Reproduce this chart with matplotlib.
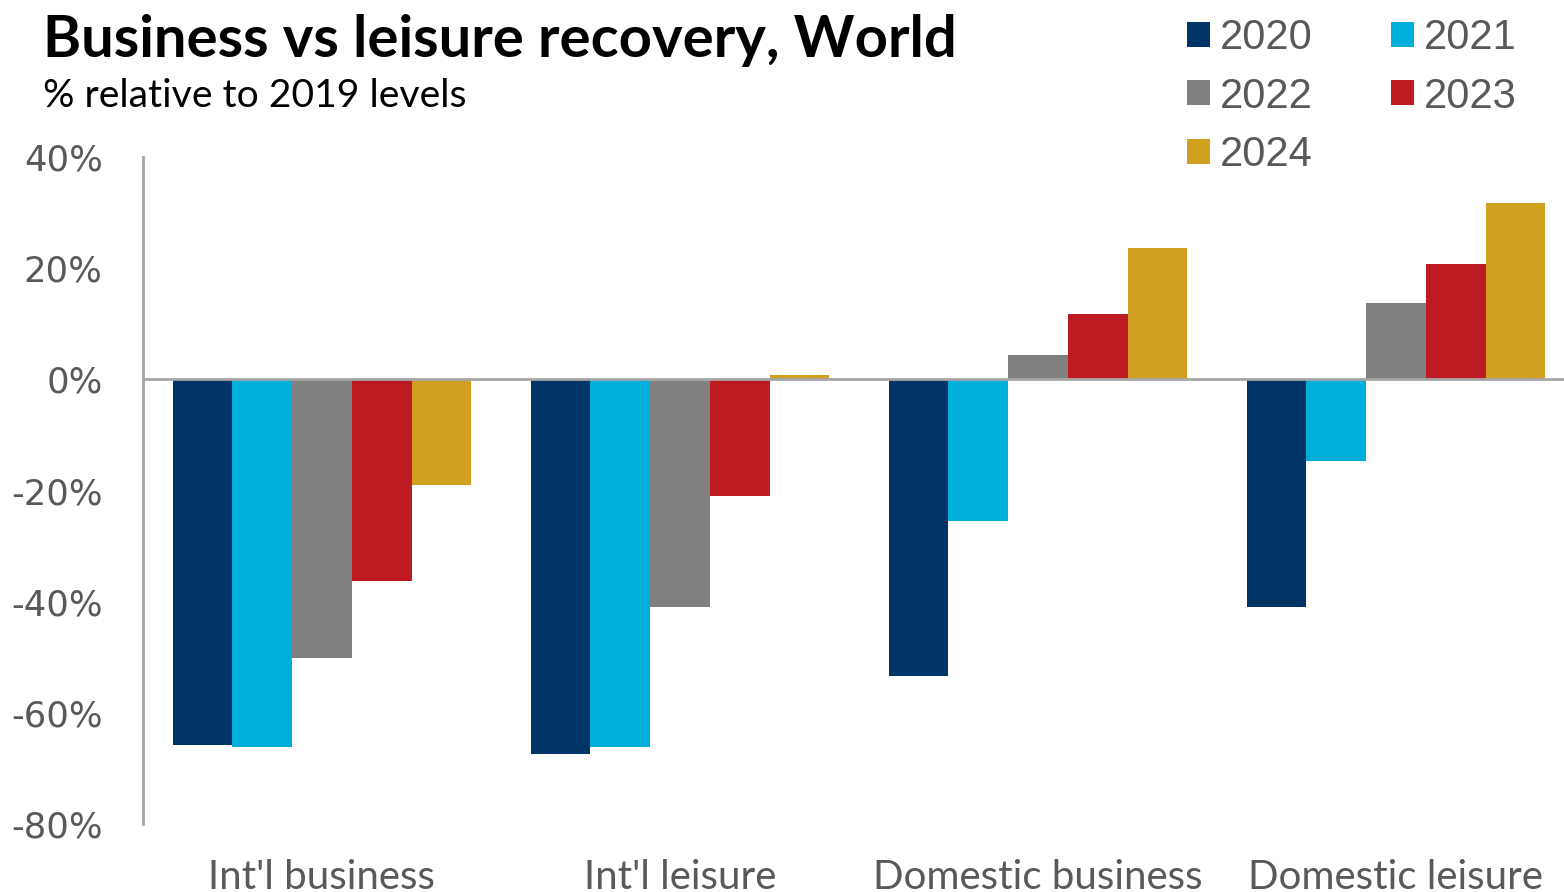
import numpy as np
import matplotlib
matplotlib.use("Agg")
import matplotlib.pyplot as plt
from matplotlib.patches import Patch

# Data (% relative to 2019)
categories = ["Int'l business", "Int'l leisure", "Domestic business", "Domestic leisure"]
years = ["2020", "2021", "2022", "2023", "2024"]
v2020 = [-65.8, -67.4, -53.4, -41.0]
v2021 = [-66.2, -66.2, -25.4, -14.7]
v2022 = [-50.2, -41.0, 4.3, 13.8]
v2023 = [-36.2, -20.9, 11.7, 20.7]
v2024 = [-19.1, 0.7, 23.6, 31.8]
series = [v2020, v2021, v2022, v2023, v2024]
colors = ["#003366", "#00AEDB", "#808080", "#BE1A21", "#D0A020"]

W, H = 1564, 892
fig = plt.figure(figsize=(W / 100, H / 100), dpi=100)
ax = fig.add_axes([143 / W, 1 - 824 / H, 1432 / W, (824 - 157) / H])

x = np.arange(len(categories))
bw = 0.167
handles = []
for i, (vals, c, yr) in enumerate(zip(series, colors, years)):
    ax.bar(x + (i - 2) * bw, vals, width=bw, color=c, edgecolor="none")
    handles.append(Patch(facecolor=c, label=yr))

ax.axhline(0, color="#a6a6a6", lw=2, zorder=3)
ax.set_xlim(-0.5, 3.5)
ax.set_ylim(-80, 40)
ax.set_yticks(np.arange(-80, 41, 20))
ax.set_yticklabels([f"{v}%" for v in range(-80, 41, 20)],
                   fontfamily="DejaVu Sans", fontsize=25.5, color="#595959")
ax.tick_params(axis="y", length=0, pad=29)
ax.set_xticks(x)
ax.set_xticklabels(categories, fontfamily="Lato", fontsize=29, color="#595959")
ax.tick_params(axis="x", length=0, pad=25)

for s in ["top", "right", "bottom"]:
    ax.spines[s].set_visible(False)
ax.spines["left"].set_color("#a6a6a6")
ax.spines["left"].set_linewidth(2)

fig.text(43 / W, 1 - 57 / H, "Business vs leisure recovery, World",
         fontfamily="Lato", fontweight="bold", fontsize=41.8, color="black",
         va="baseline", ha="left")
fig.text(43 / W, 1 - 107 / H, "% relative to 2019 levels",
         fontfamily="Lato", fontsize=28.2, color="black",
         va="baseline", ha="left")

order = [0, 2, 4, 1, 3]
leg = fig.legend([handles[k] for k in order], [years[k] for k in order],
                 ncol=2, loc="upper left", bbox_to_anchor=(1166 / W, 1 + 3 / H),
                 frameon=False, prop={"family": "Liberation Sans", "size": 30},
                 borderpad=0, handlelength=0.55, handleheight=0.55,
                 handletextpad=0.25, columnspacing=1.87, labelspacing=0.45,
                 labelcolor="#595959")

fig.savefig("out.png", dpi=100)
